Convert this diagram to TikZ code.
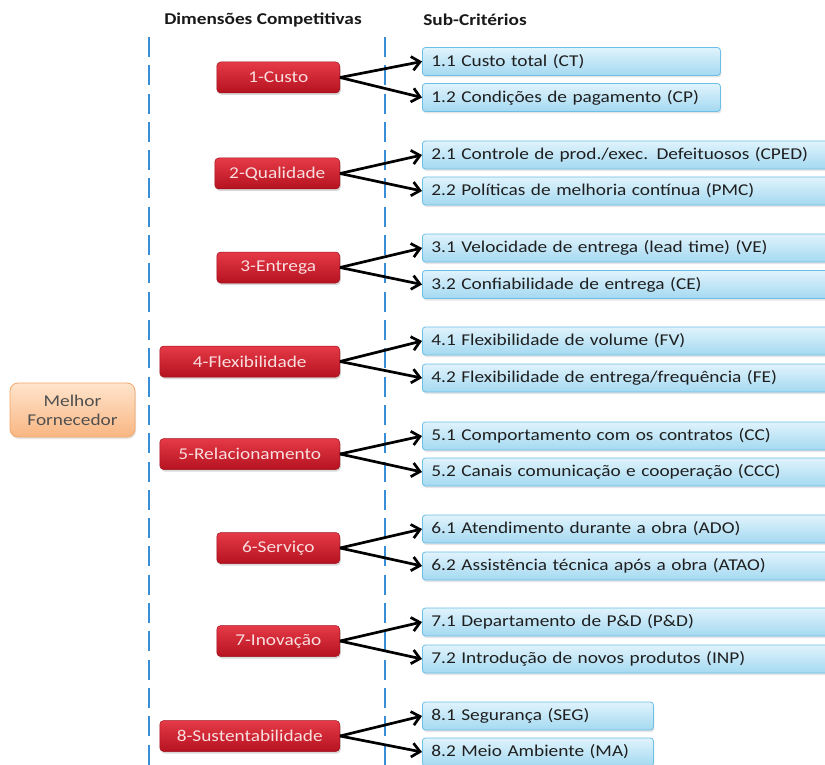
\documentclass[tikz,border=0pt]{standalone}
\usepackage{fontspec}
\setmainfont[FakeStretch=1.17]{Carlito}
\usetikzlibrary{arrows.meta,shadows}
\definecolor{redtop}{HTML}{E63A48}
\definecolor{redbot}{HTML}{B5121F}
\definecolor{redline}{HTML}{A0101C}
\definecolor{redtext}{HTML}{F8DEDE}
\definecolor{bluetop}{HTML}{E0F3FC}
\definecolor{bluebot}{HTML}{A4D9F1}
\definecolor{blueline}{HTML}{6CBFE5}
\definecolor{oratop}{HTML}{FFE4CC}
\definecolor{orabot}{HTML}{F9B682}
\definecolor{oraline}{HTML}{F2A66A}
\definecolor{oratext}{HTML}{505050}
\definecolor{dashblue}{HTML}{3A8ED6}
\begin{document}
\begin{tikzpicture}[x=1pt,y=-1pt,
  redbox/.style={rounded corners=4pt, top color=redtop, bottom color=redbot, draw=redline, line width=0.5pt,
    text=redtext, font=\fontsize{16.5}{18}\selectfont, minimum height=31pt, inner sep=0pt, anchor=east,
    drop shadow={shadow xshift=1pt, shadow yshift=-2pt, opacity=0.3}},
  bluebox/.style={rounded corners=3pt, top color=bluetop, bottom color=bluebot, draw=blueline, line width=0.8pt,
    text=black!88, font=\fontsize{16.5}{18}\selectfont, minimum height=28pt, inner xsep=9pt, inner ysep=0pt,
    anchor=west, align=left,
    drop shadow={shadow xshift=1pt, shadow yshift=-2pt, opacity=0.2}},
  orabox/.style={rounded corners=8pt, top color=oratop, bottom color=orabot, draw=oraline, line width=0.8pt,
    text=oratext, font=\fontsize{16.5}{19}\selectfont, minimum width=125pt, minimum height=54pt, align=center,
    inner sep=0pt, drop shadow={shadow xshift=1pt, shadow yshift=-2pt, opacity=0.2}},
  header/.style={font=\bfseries\fontsize{16.5}{18}\selectfont, text=black!90},
  arr/.style={line width=2.7pt, -{Straight Barb[length=8pt,width=14pt]}},
  dashline/.style={draw=dashblue, line width=2.6pt, dash pattern=on 20pt off 8.3pt}
]
\useasboundingbox (0,0) rectangle (825,765);

% headers
\node[header] (h1) at (263,20) {Dimensões Competitivas};
\node[header] (h2) at (475,20) {Sub-Critérios};

% dashed lines
\coordinate (l1t) at (149,37); \coordinate (l1b) at (149,770);
\coordinate (l2t) at (385,37); \coordinate (l2b) at (385,770);
\draw[dashline] (l1t) -- (l1b);
\draw[dashline] (l2t) -- (l2b);

% main node
\node[orabox] (mf) at (72.5,410) {Melhor\\Fornecedor};

% dimension nodes
\node[redbox, minimum width=123pt] (d1) at (340,77.5) {1-Custo};
\node[redbox, minimum width=125pt] (d2) at (340,173.5) {2-Qualidade};
\node[redbox, minimum width=123pt] (d3) at (340,267.5) {3-Entrega};
\node[redbox, minimum width=180pt] (d4) at (340,361.5) {4-Flexibilidade};
\node[redbox, minimum width=180pt] (d5) at (340,454) {5-Relacionamento};
\node[redbox, minimum width=123pt] (d6) at (340,548) {6-Serviço};
\node[redbox, minimum width=123pt] (d7) at (340,641) {7-Inovação};
\node[redbox, minimum width=180pt] (d8) at (340,736) {8-Sustentabilidade};

% sub-criteria nodes
\node[bluebox, text width=280pt] (s11) at (422,61.5) {1.1 Custo total (CT)};
\node[bluebox, text width=280pt] (s12) at (422,97.5) {1.2 Condições de pagamento (CP)};
\node[bluebox, text width=422pt] (s21) at (422,155) {2.1 Controle de prod./exec. Defeituosos (CPED)};
\node[bluebox, text width=422pt] (s22) at (422,191) {2.2 Políticas de melhoria contínua (PMC)};
\node[bluebox, text width=422pt] (s31) at (422,248) {3.1 Velocidade de entrega (lead time) (VE)};
\node[bluebox, text width=422pt] (s32) at (422,284.5) {3.2 Confiabilidade de entrega (CE)};
\node[bluebox, text width=422pt] (s41) at (422,341) {4.1 Flexibilidade de volume (FV)};
\node[bluebox, text width=422pt] (s42) at (422,378) {4.2 Flexibilidade de entrega/frequência (FE)};
\node[bluebox, text width=422pt] (s51) at (422,436) {5.1 Comportamento com os contratos (CC)};
\node[bluebox, text width=422pt] (s52) at (422,472) {5.2 Canais comunicação e cooperação (CCC)};
\node[bluebox, text width=422pt] (s61) at (422,529) {6.1 Atendimento durante a obra (ADO)};
\node[bluebox, text width=422pt] (s62) at (422,566) {6.2 Assistência técnica após a obra (ATAO)};
\node[bluebox, text width=422pt] (s71) at (422,622) {7.1 Departamento de P\&D (P\&D)};
\node[bluebox, text width=422pt] (s72) at (422,659) {7.2 Introdução de novos produtos (INP)};
\node[bluebox, text width=213pt] (s81) at (422,716) {8.1 Segurança (SEG)};
\node[bluebox, text width=213pt] (s82) at (422,752) {8.2 Meio Ambiente (MA)};

% arrows
\foreach \d/\a/\b in {d1/s11/s12, d2/s21/s22, d3/s31/s32, d4/s41/s42, d5/s51/s52, d6/s61/s62, d7/s71/s72, d8/s81/s82}{
  \draw[arr] (\d.east) -- (\a.west);
  \draw[arr] (\d.east) -- (\b.west);
}
\end{tikzpicture}
\end{document}
